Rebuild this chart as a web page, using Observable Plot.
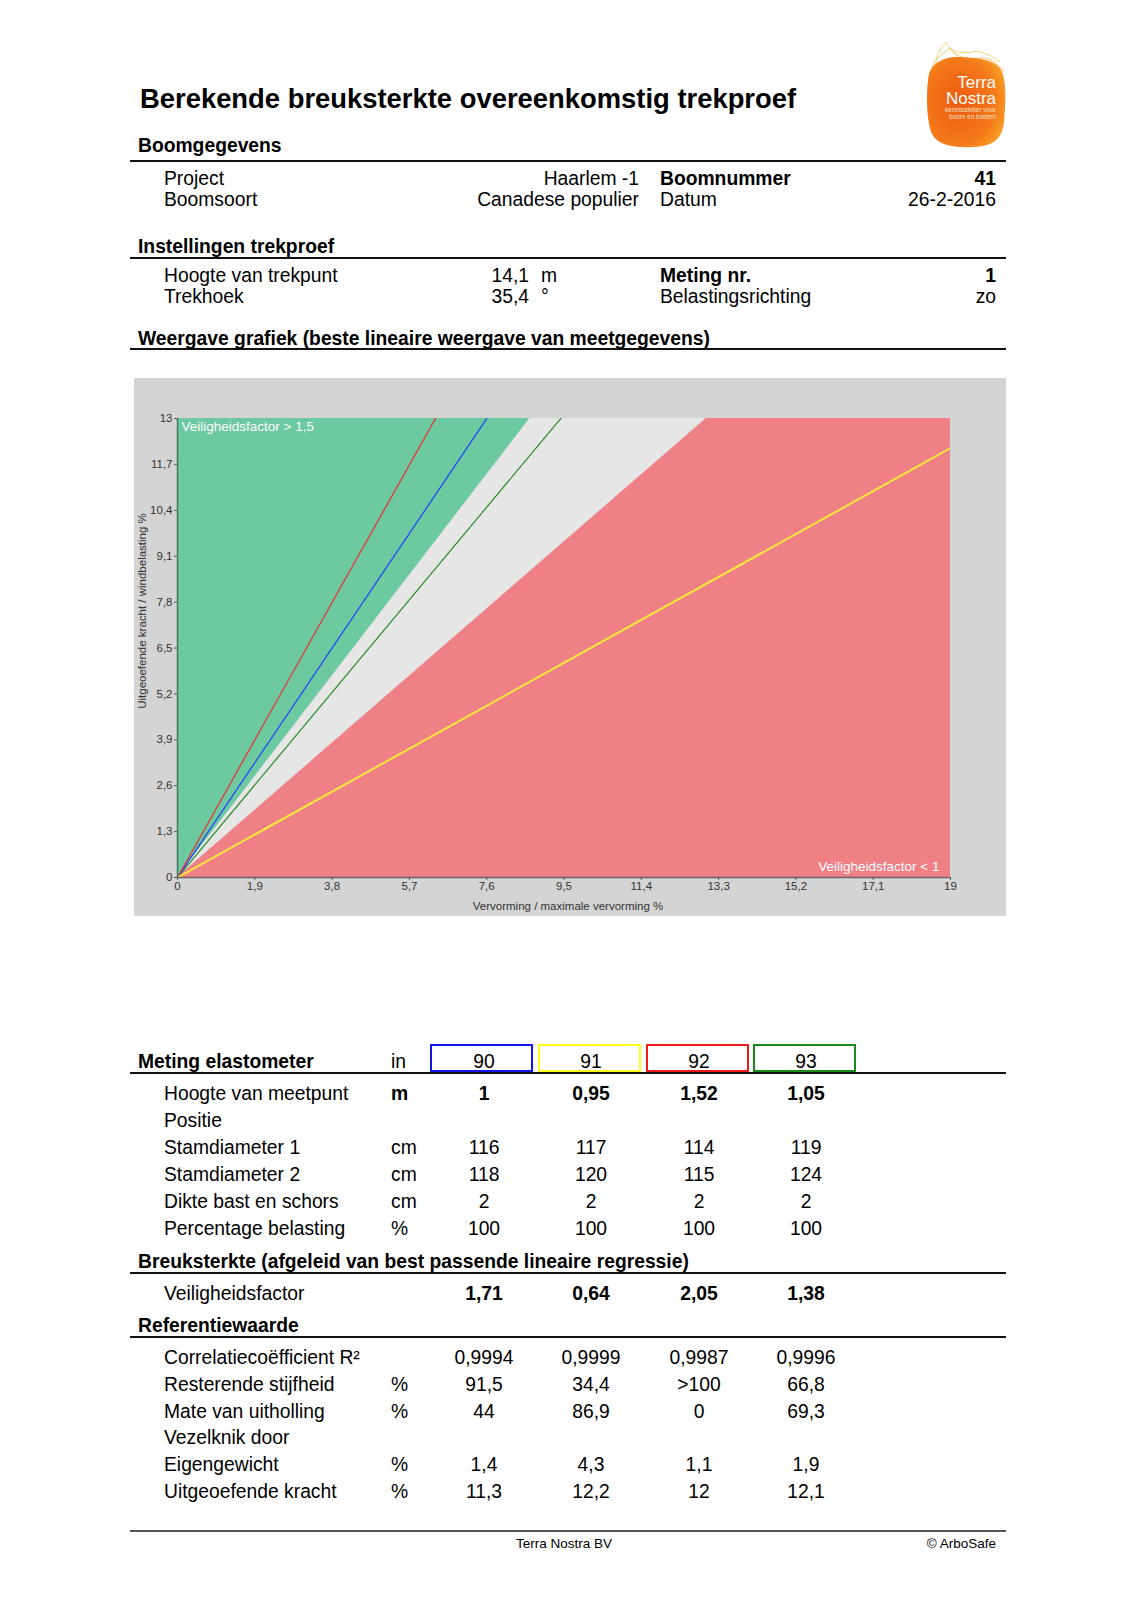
<!DOCTYPE html>
<html>
<head>
<meta charset="utf-8">
<script src="https://cdn.jsdelivr.net/npm/d3@7"></script>
<script src="https://cdn.jsdelivr.net/npm/@observablehq/plot@0.6"></script>
<style>
  html, body { margin: 0; padding: 0; background: #fff; }
  #page { position: relative; width: 1131px; height: 1600px; background: #fff; font-family: "Liberation Sans", Arial, Helvetica, sans-serif; color: #000; overflow: hidden; }
  #page div.t { position: absolute; white-space: nowrap; }
  #chart { position: absolute; left: 134px; top: 378px; }
</style>
</head>
<body>
<div id="page">
  <div id="chart"></div>
</div>
<script>
// ---------- data ----------
const meters = ["90", "91", "92", "93"];
const meterColors = ["#1414e6", "#ffff1a", "#f01818", "#1a8a1a"];
const lineColors = ["#1f3cff", "#ffe83c", "#ee2d2d", "#2a8a2a"];
const veiligheidsfactor = [1.71, 0.64, 2.05, 1.38];
const zoneBounds = [1.5, 1];                 // veiligheidsfactor thresholds of the zones
const xTicks = [0, 1.9, 3.8, 5.7, 7.6, 9.5, 11.4, 13.3, 15.2, 17.1, 19];
const yTicks = [0, 1.3, 2.6, 3.9, 5.2, 6.5, 7.8, 9.1, 10.4, 11.7, 13];

const hoogteMeetpunt = ["1", "0,95", "1,52", "1,05"];
const stamdiameter1 = ["116", "117", "114", "119"];
const stamdiameter2 = ["118", "120", "115", "124"];
const dikteBast = ["2", "2", "2", "2"];
const percentageBelasting = ["100", "100", "100", "100"];
const veiligheidsfactorTxt = ["1,71", "0,64", "2,05", "1,38"];
const correlatie = ["0,9994", "0,9999", "0,9987", "0,9996"];
const resterendeStijfheid = ["91,5", "34,4", ">100", "66,8"];
const mateUitholling = ["44", "86,9", "0", "69,3"];
const eigengewicht = ["1,4", "4,3", "1,1", "1,9"];
const uitgeoefendeKracht = ["11,3", "12,2", "12", "12,1"];

// ---------- page helpers ----------
const page = document.getElementById("page");
function put(txt, x, base, opt = {}) {
  const size = opt.size || 19.3;
  const el = document.createElement("div");
  el.className = "t";
  el.textContent = txt;
  el.style.fontSize = size + "px";
  el.style.lineHeight = size + "px";
  el.style.fontWeight = opt.bold ? "700" : "400";
  el.style.color = opt.color || "#000";
  el.style.top = (base - 0.8465 * size) + "px";
  const anchor = opt.anchor || "start";
  if (anchor === "start") el.style.left = x + "px";
  else if (anchor === "end") el.style.right = (1131 - x) + "px";
  else { el.style.left = x + "px"; el.style.transform = "translateX(-50%)"; }
  page.appendChild(el);
}
function rule(y, w = 1.6, color = "#111", x1 = 130, x2 = 1006) {
  const el = document.createElement("div");
  el.style.cssText = `position:absolute;left:${x1}px;width:${x2 - x1}px;top:${y - w / 2}px;height:${w}px;background:${color};`;
  page.appendChild(el);
}

// ---------- header ----------
put("Berekende breuksterkte overeenkomstig trekproef", 140, 108, {size: 27.4, bold: true});

put("Boomgegevens", 138, 152, {bold: true});
rule(161);
put("Project", 164, 185);
put("Haarlem -1", 639, 185, {anchor: "end"});
put("Boomnummer", 660, 185, {bold: true});
put("41", 996, 185, {anchor: "end", bold: true});
put("Boomsoort", 164, 206);
put("Canadese populier", 639, 206, {anchor: "end"});
put("Datum", 660, 206);
put("26-2-2016", 996, 206, {anchor: "end"});

put("Instellingen trekproef", 138, 253, {bold: true});
rule(258);
put("Hoogte van trekpunt", 164, 282);
put("14,1", 529, 282, {anchor: "end"});
put("m", 541, 282);
put("Meting nr.", 660, 282, {bold: true});
put("1", 996, 282, {anchor: "end", bold: true});
put("Trekhoek", 164, 303);
put("35,4", 529, 303, {anchor: "end"});
put("°", 541, 303);
put("Belastingsrichting", 660, 303);
put("zo", 996, 303, {anchor: "end"});

put("Weergave grafiek (beste lineaire weergave van meetgegevens)", 138, 345, {bold: true});
rule(349);

// ---------- logo ----------
page.insertAdjacentHTML("beforeend", `
<svg style="position:absolute;left:920px;top:40px" width="90" height="112" viewBox="0 0 90 112">
  <defs>
    <radialGradient id="lg" cx="0.4" cy="0.5" r="0.7">
      <stop offset="0" stop-color="#ee5a10"/>
      <stop offset="0.65" stop-color="#f47818"/>
      <stop offset="1" stop-color="#f9a828"/>
    </radialGradient>
  </defs>
  <path d="M18 30 C 12 18, 22 8, 26 2 C 30 12, 40 14, 52 12 C 62 10, 72 16, 80 22" fill="none" stroke="#f7d27a" stroke-width="1"/>
  <path d="M12 34 C 10 22, 22 14, 30 8 C 36 18, 48 20, 60 18 C 70 17, 78 24, 84 32" fill="none" stroke="#f5c060" stroke-width="1"/>
  <path d="M9 34 C 12 22, 26 16, 40 17 C 54 18, 70 18, 79 27 C 87 36, 86 60, 84 82 C 82 100, 72 106, 54 107 C 36 108, 18 106, 12 94 C 6 80, 6 48, 9 34 Z" fill="url(#lg)"/>
  <text x="76" y="48" text-anchor="end" font-size="17" fill="#fff" font-family="Liberation Sans, Arial">Terra</text>
  <text x="76" y="64" text-anchor="end" font-size="17" fill="#fff" font-family="Liberation Sans, Arial">Nostra</text>
  <text x="76" y="72" text-anchor="end" font-size="6.5" fill="#fde3c8" font-family="Liberation Sans, Arial">kennisatelier voor</text>
  <text x="76" y="79" text-anchor="end" font-size="6.5" fill="#fde3c8" font-family="Liberation Sans, Arial">boom en bodem</text>
</svg>`);

// ---------- chart ----------
const fmt = d => String(d).replace(".", ",");
const xMax = xTicks[xTicks.length - 1];
const yMax = yTicks[yTicks.length - 1];
const yEnds = [yTicks[0], yMax];
const [fGreen, fRed] = zoneBounds;

const lineData = veiligheidsfactor.flatMap((f, i) => [
  {meter: meters[i], x: 0, y: 0},
  {meter: meters[i], x: xMax, y: f * xMax}
]);
const lineOrder = [3, 0, 2, 1]; // green, blue, red, yellow drawn order

const chart = Plot.plot({
  width: 872,
  height: 538,
  marginLeft: 43,
  marginRight: 56,
  marginTop: 40,
  marginBottom: 39,
  style: {background: "#d4d4d4", fontFamily: "Liberation Sans, Arial, sans-serif", fontSize: "11px", color: "#333", overflow: "visible"},
  x: {domain: [0, xMax]},
  y: {domain: [0, yMax]},
  marks: [
    Plot.areaX(yEnds, {y: d => d, x1: 0, x2: d => d / fGreen, fill: "#6cc9a0"}),
    Plot.areaX(yEnds, {y: d => d, x1: d => d / fGreen, x2: d => d / fRed, fill: "#e6e6e6"}),
    Plot.areaX(yEnds, {y: d => d, x1: d => d / fRed, x2: xMax, fill: "#ef8086"}),
    ...lineOrder.map(i => Plot.line(lineData.filter(d => d.meter === meters[i]), {
      x: "x", y: "y", stroke: lineColors[i], strokeWidth: meters[i] === "91" ? 2 : 1.2, clip: true
    })),
    Plot.ruleY([0], {stroke: "#6e6262", strokeWidth: 1.5}),
    Plot.ruleX([0], {stroke: "#3f7a5c", strokeWidth: 1.5}),
    Plot.axisX(xTicks, {tickSize: 3, tickPadding: 1, tickFormat: fmt, label: null, stroke: "#555", fontSize: 11.5}),
    Plot.axisY(yTicks, {tickSize: 3, tickPadding: 2, tickFormat: fmt, label: null, stroke: "#555", fontSize: 11.5}),
    Plot.text(["Veiligheidsfactor > 1,5"], {frameAnchor: "top-left", textAnchor: "start", lineAnchor: "top", dx: 4, dy: 3, fill: "#fff", fontSize: 13.5}),
    Plot.text(["Veiligheidsfactor < 1"], {frameAnchor: "bottom-right", textAnchor: "end", lineAnchor: "bottom", dx: -11, dy: -7, fill: "#fff", fontSize: 13.5}),
    Plot.text(["Vervorming / maximale vervorming %"], {frameAnchor: "bottom", lineAnchor: "bottom", dx: 4, dy: 32, fill: "#333", fontSize: 11.5}),
    Plot.text(["Uitgeoefende kracht / windbelasting %"], {frameAnchor: "left", textAnchor: "middle", rotate: -90, dx: -35, dy: -37, fill: "#333", fontSize: 11.5})
  ]
});
document.getElementById("chart").appendChild(chart);

// ---------- table ----------
const colX = [484, 591, 699, 806];
const boxX = [[430, 533], [538, 641], [646, 749], [753, 856]];
meters.forEach((m, i) => {
  const b = document.createElement("div");
  b.style.cssText = `position:absolute;left:${boxX[i][0]}px;top:1044px;width:${boxX[i][1] - boxX[i][0] - 4}px;height:24px;border:2px solid ${meterColors[i]};`;
  page.appendChild(b);
});
put("Meting elastometer", 138, 1068, {bold: true});
put("in", 391, 1068);
meters.forEach((m, i) => put(m, colX[i], 1068, {anchor: "middle"}));
rule(1073);

function row(label, unit, vals, base, bold = false) {
  put(label, 164, base);
  if (unit) put(unit, 391, base, {bold});
  if (vals) vals.forEach((v, i) => put(v, colX[i], base, {anchor: "middle", bold}));
}
row("Hoogte van meetpunt", "m", hoogteMeetpunt, 1100, true);
row("Positie", null, null, 1127);
row("Stamdiameter 1", "cm", stamdiameter1, 1154);
row("Stamdiameter 2", "cm", stamdiameter2, 1181);
row("Dikte bast en schors", "cm", dikteBast, 1208);
row("Percentage belasting", "%", percentageBelasting, 1235);

put("Breuksterkte (afgeleid van best passende lineaire regressie)", 138, 1268, {bold: true});
rule(1273);
row("Veiligheidsfactor", null, veiligheidsfactorTxt, 1300, true);

put("Referentiewaarde", 138, 1332, {bold: true});
rule(1337);
row("Correlatiecoëfficient R²", null, correlatie, 1364);
row("Resterende stijfheid", "%", resterendeStijfheid, 1391);
row("Mate van uitholling", "%", mateUitholling, 1418);
row("Vezelknik door", null, null, 1444);
row("Eigengewicht", "%", eigengewicht, 1471);
row("Uitgeoefende kracht", "%", uitgeoefendeKracht, 1498);

// ---------- footer ----------
rule(1531, 2, "#555");
put("Terra Nostra BV", 564, 1548, {size: 13.5, anchor: "middle"});
put("© ArboSafe", 996, 1548, {size: 13.5, anchor: "end"});
</script>
</body>
</html>
